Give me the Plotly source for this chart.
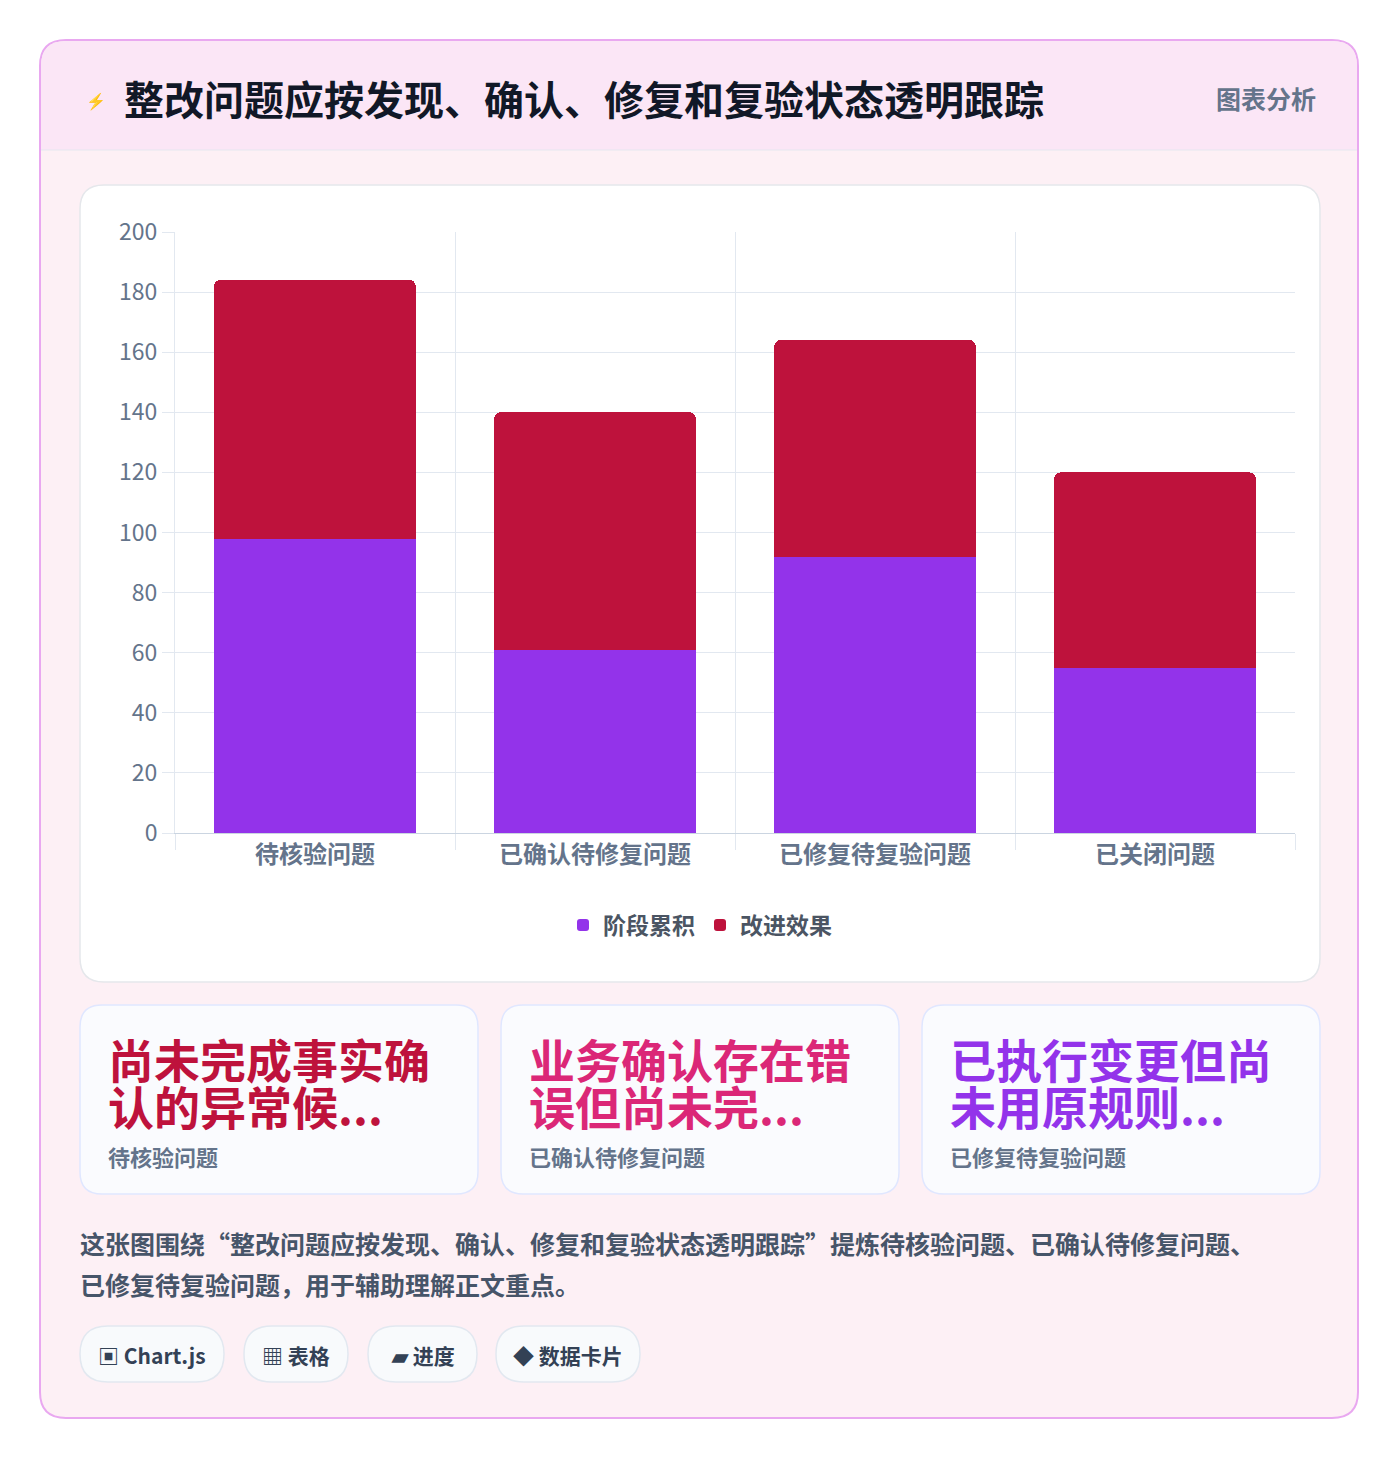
import plotly.graph_objects as go

W, H = 1400, 1460
OFF = 8  # page body margin
FONT = "Noto Sans CJK SC, Noto Sans, sans-serif"

# Data
categories = ["待核验问题", "已确认待修复问题", "已修复待复验问题", "已关闭问题"]
stage_values = [98, 61, 92, 55]      # 阶段累积
effect_values = [86, 79, 72, 65]     # 改进效果
y_ticks = [0, 20, 40, 60, 80, 100, 120, 140, 160, 180, 200]

card_lines = [["尚未完成事实确", "认的异常候..."], ["业务确认存在错", "误但尚未完..."], ["已执行变更但尚", "未用原规则..."]]
card_subs = ["待核验问题", "已确认待修复问题", "已修复待复验问题"]
card_colors = ["#be123c", "#db2777", "#9333ea"]
chips = ["▣ Chart.js", "▦ 表格", "▰ 进度", "◆ 数据卡片"]
desc_lines = ["这张图围绕“整改问题应按发现、确认、修复和复验状态透明跟踪”提炼待核验问题、已确认待修复问题、",
              "已修复待复验问题，用于辅助理解正文重点。"]


def px(x):
    return (x - OFF) / W


def py(y):
    return 1 - (y - OFF) / H


def rrect(x0, y0, x1, y1, r, fill, line=None, lw=1, top_only=False):
    rx, ry = r / W, r / H
    X0, X1 = px(x0), px(x1)
    Yt, Yb = py(y0), py(y1)
    if top_only:
        p = (f"M{X0},{Yb} L{X0},{Yt-ry} Q{X0},{Yt} {X0+rx},{Yt} L{X1-rx},{Yt} "
             f"Q{X1},{Yt} {X1},{Yt-ry} L{X1},{Yb} Z")
    else:
        p = (f"M{X0+rx},{Yt} L{X1-rx},{Yt} Q{X1},{Yt} {X1},{Yt-ry} L{X1},{Yb+ry} "
             f"Q{X1},{Yb} {X1-rx},{Yb} L{X0+rx},{Yb} Q{X0},{Yb} {X0},{Yb+ry} "
             f"L{X0},{Yt-ry} Q{X0},{Yt} {X0+rx},{Yt} Z")
    return dict(type="path", xref="paper", yref="paper", path=p, fillcolor=fill,
                line=dict(color=line or "rgba(0,0,0,0)", width=lw if line else 0), layer="below")


fig = go.Figure()
fig.add_trace(go.Bar(name="阶段累积", x=categories, y=stage_values, marker_color="#9333ea"))
fig.add_trace(go.Bar(name="改进效果", x=categories, y=effect_values, marker_color="#be123c"))

shapes = [
    rrect(40, 40, 1358, 1418, 26, "#fdf0f5", "#e9a8f0", 2),
    rrect(41, 41, 1357, 150, 25, "#fbe6f6", None, top_only=True),
    dict(type="line", xref="paper", yref="paper", x0=px(41), x1=px(1357), y0=py(150), y1=py(150),
         line=dict(color="#e5e7f0", width=1)),
    rrect(80, 185, 1320, 982, 24, "#ffffff", "#e5e7eb", 1.5),
]
for i in range(3):
    x0 = 80 + i * 421
    shapes.append(rrect(x0, 1005, x0 + 398, 1194, 22, "#fafbfe", "#e0e7ff", 1.5))
chip_x = [(80, 224), (244, 348), (368, 477), (496, 640)]
for a, b in chip_x:
    shapes.append(rrect(a, 1326, b, 1382, 28, "#f8fafc", "#e2e8f0", 1.5))

ann = [
    dict(x=px(84), y=py(100), text="⚡", font=dict(size=16, color="#3b5bdb")),
    dict(x=px(122), y=py(98), text="<b>整改问题应按发现、确认、修复和复验状态透明跟踪</b>",
         font=dict(size=40, color="#111827")),
    dict(x=px(1318), y=py(98), text="<b>图表分析</b>", xanchor="right",
         font=dict(size=25, color="#64748b")),
]
for i in range(3):
    x0 = 80 + i * 421
    for j, line in enumerate(card_lines[i]):
        ann.append(dict(x=px(x0 + 26), y=py(1058 + 47 * j), text=f"<b>{line}</b>",
                        font=dict(size=46, color=card_colors[i])))
    ann.append(dict(x=px(x0 + 26), y=py(1156), text=f"<b>{card_subs[i]}</b>",
                    font=dict(size=22, color="#64748b")))
for j, line in enumerate(desc_lines):
    ann.append(dict(x=px(78), y=py(1243 + 41 * j), text=f"<b>{line}</b>",
                    font=dict(size=25, color="#475569")))
for (a, b), t in zip(chip_x, chips):
    ann.append(dict(x=px((a + b) / 2), y=py(1355), text=f"<b>{t}</b>", xanchor="center",
                    font=dict(size=21, color="#334155")))
for a in ann:
    a.setdefault("xanchor", "left")
    a.update(xref="paper", yref="paper", yanchor="middle", showarrow=False)

fig.update_layout(
    width=W, height=H, margin=dict(l=0, r=0, t=0, b=0, autoexpand=False),
    paper_bgcolor="#ffffff", plot_bgcolor="rgba(0,0,0,0)",
    font=dict(family=FONT),
    barmode="stack", bargap=0.28, barcornerradius=6,
    shapes=shapes, annotations=ann,
    legend=dict(orientation="h", x=px(700), xanchor="center", y=py(925), yanchor="middle",
                traceorder="normal",
                font=dict(size=23, color="#4b5563", family=FONT, weight="bold"),
                bgcolor="rgba(0,0,0,0)"),
    xaxis=dict(domain=[px(175), px(1295)], showgrid=True, gridcolor="#e2e8f0",
               tickfont=dict(size=24, color="#64748b", weight="bold"), ticks="outside", ticklen=16,
               tickcolor="#e2e8f0", showline=True, linecolor="#cbd5e1",
               tickson="boundaries", automargin=False),
    yaxis=dict(domain=[py(833), py(232)], range=[0, 200], tickvals=y_ticks,
               gridcolor="#e2e8f0", tickfont=dict(size=23, color="#64748b"),
               ticks="outside", ticklen=12, tickcolor="#e2e8f0",
               showline=True, linecolor="#e2e8f0", zeroline=False, automargin=False),
)
fig.update_traces(marker_line_width=0)
fig.write_html("out.html")
